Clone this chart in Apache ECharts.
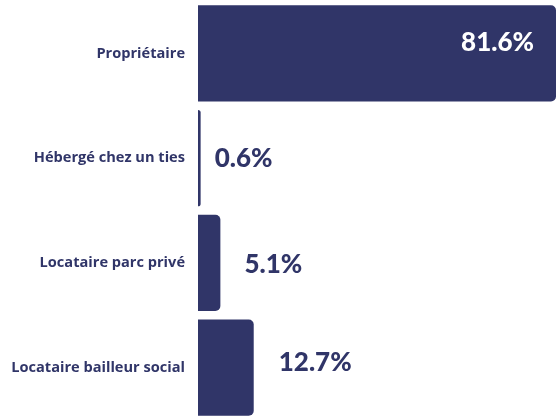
<!DOCTYPE html>
<html>
<head>
<meta charset="utf-8">
<script src="https://cdn.jsdelivr.net/npm/echarts@6/dist/echarts.min.js"></script>
<style>html,body{margin:0;padding:0;background:#fff}#c{width:559px;height:420px}</style>
</head>
<body>
<div id="c"></div>
<script>
const categories = ['Propriétaire', 'Hébergé chez un ties', 'Locataire parc privé', 'Locataire bailleur social'];
const values = [81.6, 0.6, 5.1, 12.7];

const NAVY = '#303568';
const labelStyles = [
  { position: 'insideRight', distance: 22, color: '#ffffff', offset: [0, -11] },
  { position: 'right', distance: 14, color: NAVY, offset: [0, 0] },
  { position: 'right', distance: 24, color: NAVY, offset: [0, 2] },
  { position: 'right', distance: 25, color: NAVY, offset: [0, -5] }
];

const chart = echarts.init(document.getElementById('c'), null, { renderer: 'canvas' });
chart.setOption({
  animation: false,
  grid: { left: 198, right: 3, top: 1, bottom: -2, containLabel: false },
  xAxis: { type: 'value', min: 0, max: 81.6, show: false },
  yAxis: {
    type: 'category',
    data: categories,
    inverse: true,
    axisLine: { show: false },
    axisTick: { show: false },
    axisLabel: { margin: 13, color: NAVY, fontFamily: 'Open Sans', fontWeight: 'bold', fontSize: 14.6 }
  },
  series: [{
    type: 'bar',
    barCategoryGap: '8%',
    data: values.map((v, i) => ({
      value: v,
      label: {
        show: true,
        position: labelStyles[i].position,
        distance: labelStyles[i].distance,
        offset: labelStyles[i].offset,
        color: labelStyles[i].color,
        formatter: (p) => p.value.toFixed(1) + '%',
        fontFamily: 'Lato', fontWeight: 900, fontSize: 26
      }
    })),
    itemStyle: { color: NAVY, borderRadius: [0, 5, 5, 0] }
  }]
});
</script>
</body>
</html>
